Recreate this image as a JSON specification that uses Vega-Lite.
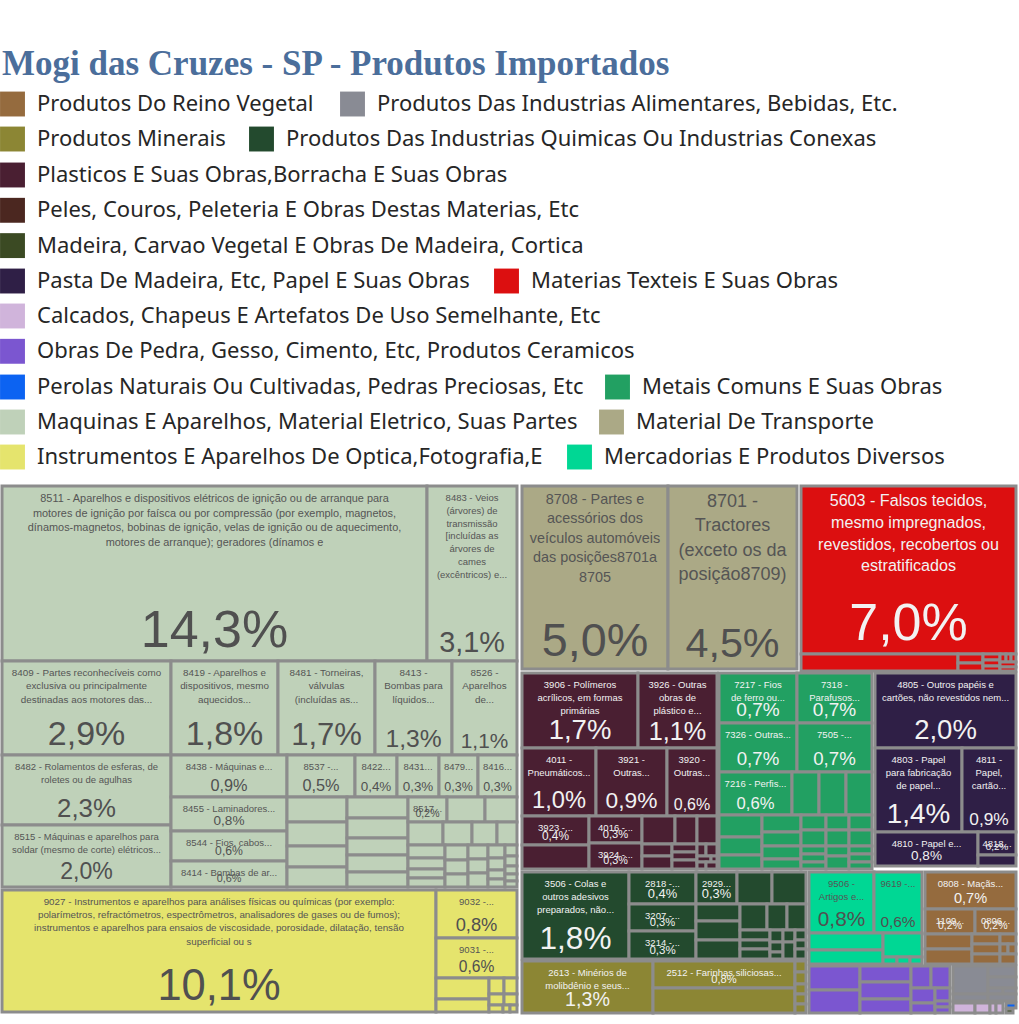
{
  "$schema": "https://vega.github.io/schema/vega-lite/v6.json",
  "width": 1019,
  "height": 530,
  "autosize": {"type": "none"},
  "padding": {"top": 484, "left": 0, "right": 0, "bottom": 10},
  "background": "white",
  "title": {
    "text": "Mogi das Cruzes - SP - Produtos Importados",
    "anchor": "start",
    "frame": "group",
    "font": "Liberation Serif",
    "fontSize": 35,
    "fontWeight": "bold",
    "color": "#4b6e9b",
    "baseline": "alphabetic",
    "offset": -18,
    "dx": 2
  },
  "datasets": {
    "grupos": [
      {"cod": "RV", "grupo": "Produtos Do Reino Vegetal"},
      {"cod": "AL", "grupo": "Produtos Das Industrias Alimentares, Bebidas, Etc."},
      {"cod": "MI", "grupo": "Produtos Minerais"},
      {"cod": "QU", "grupo": "Produtos Das Industrias Quimicas Ou Industrias Conexas"},
      {"cod": "PL", "grupo": "Plasticos E Suas Obras,Borracha E Suas Obras"},
      {"cod": "PE", "grupo": "Peles, Couros, Peleteria E Obras Destas Materias, Etc"},
      {"cod": "MA", "grupo": "Madeira, Carvao Vegetal E Obras De Madeira, Cortica"},
      {"cod": "PA", "grupo": "Pasta De Madeira, Etc, Papel E Suas Obras"},
      {"cod": "TX", "grupo": "Materias Texteis E Suas Obras"},
      {"cod": "CA", "grupo": "Calcados, Chapeus E Artefatos De Uso Semelhante, Etc"},
      {"cod": "OP", "grupo": "Obras De Pedra, Gesso, Cimento, Etc, Produtos Ceramicos"},
      {"cod": "PR", "grupo": "Perolas Naturais Ou Cultivadas, Pedras Preciosas, Etc"},
      {"cod": "ME", "grupo": "Metais Comuns E Suas Obras"},
      {"cod": "MQ", "grupo": "Maquinas E Aparelhos, Material Eletrico, Suas Partes"},
      {"cod": "TR", "grupo": "Material De Transporte"},
      {"cod": "IN", "grupo": "Instrumentos E Aparelhos De Optica,Fotografia,E"},
      {"cod": "MD", "grupo": "Mercadorias E Produtos Diversos"}
    ],
    "folhas": [
      {"cod": "MQ", "x0": 2, "x1": 427, "y0": 2, "y1": 177, "share": 0.143, "rotulo": "8511 - Aparelhos e dispositivos elétricos de ignição ou de arranque para\nmotores de ignição por faísca ou por compressão (por exemplo, magnetos,\ndínamos-magnetos, bobinas de ignição, velas de ignição ou de aquecimento,\nmotores de arranque); geradores (dínamos e"},
      {"cod": "MQ", "x0": 427, "x1": 517, "y0": 2, "y1": 177, "share": 0.031, "rotulo": "8483 - Veios\n(árvores) de\ntransmissão\n[incluídas as\nárvores de\ncames\n(excêntricos) e..."},
      {"cod": "MQ", "x0": 2, "x1": 171, "y0": 177, "y1": 271, "share": 0.029, "rotulo": "8409 - Partes reconhecíveis como\nexclusiva ou principalmente\ndestinadas aos motores das..."},
      {"cod": "MQ", "x0": 171, "x1": 278, "y0": 177, "y1": 271, "share": 0.018, "rotulo": "8419 - Aparelhos e\ndispositivos, mesmo\naquecidos..."},
      {"cod": "MQ", "x0": 278, "x1": 375, "y0": 177, "y1": 271, "share": 0.017, "rotulo": "8481 - Torneiras,\nválvulas\n(incluídas as..."},
      {"cod": "MQ", "x0": 375, "x1": 452, "y0": 177, "y1": 271, "share": 0.013, "rotulo": "8413 -\nBombas para\nlíquidos..."},
      {"cod": "MQ", "x0": 452, "x1": 517, "y0": 177, "y1": 271, "share": 0.011, "rotulo": "8526 -\nAparelhos\nde..."},
      {"cod": "MQ", "x0": 2, "x1": 171, "y0": 271, "y1": 341, "share": 0.023, "rotulo": "8482 - Rolamentos de esferas, de\nroletes ou de agulhas"},
      {"cod": "MQ", "x0": 2, "x1": 171, "y0": 341, "y1": 403, "share": 0.020, "rotulo": "8515 - Máquinas e aparelhos para\nsoldar (mesmo de corte) elétricos..."},
      {"cod": "MQ", "x0": 171, "x1": 287, "y0": 271, "y1": 313, "share": 0.009, "rotulo": "8438 - Máquinas e..."},
      {"cod": "MQ", "x0": 171, "x1": 287, "y0": 313, "y1": 347, "share": 0.008, "rotulo": "8455 - Laminadores..."},
      {"cod": "MQ", "x0": 171, "x1": 287, "y0": 347, "y1": 377, "share": 0.006, "rotulo": "8544 - Fios, cabos..."},
      {"cod": "MQ", "x0": 171, "x1": 287, "y0": 377, "y1": 403, "share": 0.006, "rotulo": "8414 - Bombas de ar..."},
      {"cod": "MQ", "x0": 287, "x1": 355, "y0": 271, "y1": 313, "share": 0.005, "rotulo": "8537 -..."},
      {"cod": "MQ", "x0": 355, "x1": 397, "y0": 271, "y1": 313, "share": 0.004, "rotulo": "8422..."},
      {"cod": "MQ", "x0": 397, "x1": 439, "y0": 271, "y1": 313, "share": 0.003, "rotulo": "8431..."},
      {"cod": "MQ", "x0": 439, "x1": 478, "y0": 271, "y1": 313, "share": 0.003, "rotulo": "8479..."},
      {"cod": "MQ", "x0": 478, "x1": 517, "y0": 271, "y1": 313, "share": 0.003, "rotulo": "8416..."},
      {"cod": "MQ", "x0": 287, "x1": 347, "y0": 313, "y1": 338},
      {"cod": "MQ", "x0": 287, "x1": 347, "y0": 338, "y1": 362},
      {"cod": "MQ", "x0": 287, "x1": 347, "y0": 362, "y1": 383},
      {"cod": "MQ", "x0": 287, "x1": 347, "y0": 383, "y1": 403},
      {"cod": "MQ", "x0": 347, "x1": 408, "y0": 313, "y1": 334},
      {"cod": "MQ", "x0": 347, "x1": 408, "y0": 334, "y1": 354},
      {"cod": "MQ", "x0": 347, "x1": 408, "y0": 354, "y1": 371},
      {"cod": "MQ", "x0": 347, "x1": 408, "y0": 371, "y1": 388},
      {"cod": "MQ", "x0": 347, "x1": 408, "y0": 388, "y1": 403},
      {"cod": "MQ", "x0": 408, "x1": 447, "y0": 313, "y1": 338, "share": 0.002, "rotulo": "8517..."},
      {"cod": "MQ", "x0": 447, "x1": 485, "y0": 313, "y1": 338},
      {"cod": "MQ", "x0": 485, "x1": 517, "y0": 313, "y1": 338},
      {"cod": "MQ", "x0": 408, "x1": 443, "y0": 338, "y1": 361},
      {"cod": "MQ", "x0": 443, "x1": 472, "y0": 338, "y1": 361},
      {"cod": "MQ", "x0": 472, "x1": 497, "y0": 338, "y1": 361},
      {"cod": "MQ", "x0": 497, "x1": 517, "y0": 338, "y1": 361},
      {"cod": "MQ", "x0": 408, "x1": 445, "y0": 361, "y1": 374},
      {"cod": "MQ", "x0": 408, "x1": 445, "y0": 374, "y1": 385},
      {"cod": "MQ", "x0": 408, "x1": 445, "y0": 385, "y1": 394},
      {"cod": "MQ", "x0": 408, "x1": 445, "y0": 394, "y1": 403},
      {"cod": "MQ", "x0": 445, "x1": 468, "y0": 361, "y1": 376},
      {"cod": "MQ", "x0": 445, "x1": 468, "y0": 376, "y1": 390},
      {"cod": "MQ", "x0": 445, "x1": 468, "y0": 390, "y1": 403},
      {"cod": "MQ", "x0": 468, "x1": 488, "y0": 361, "y1": 375},
      {"cod": "MQ", "x0": 468, "x1": 488, "y0": 375, "y1": 389},
      {"cod": "MQ", "x0": 468, "x1": 488, "y0": 389, "y1": 403},
      {"cod": "MQ", "x0": 488, "x1": 505, "y0": 361, "y1": 374},
      {"cod": "MQ", "x0": 488, "x1": 505, "y0": 374, "y1": 386},
      {"cod": "MQ", "x0": 488, "x1": 505, "y0": 386, "y1": 395},
      {"cod": "MQ", "x0": 488, "x1": 505, "y0": 395, "y1": 403},
      {"cod": "MQ", "x0": 505, "x1": 517, "y0": 361, "y1": 372},
      {"cod": "MQ", "x0": 505, "x1": 517, "y0": 372, "y1": 382},
      {"cod": "MQ", "x0": 505, "x1": 517, "y0": 382, "y1": 390},
      {"cod": "MQ", "x0": 505, "x1": 517, "y0": 390, "y1": 397},
      {"cod": "MQ", "x0": 505, "x1": 517, "y0": 397, "y1": 403},

      {"cod": "TR", "x0": 522, "x1": 668, "y0": 2, "y1": 185, "share": 0.050, "rotulo": "8708 - Partes e\nacessórios dos\nveículos automóveis\ndas posições8701a\n8705"},
      {"cod": "TR", "x0": 668, "x1": 797, "y0": 2, "y1": 185, "share": 0.045, "rotulo": "8701 -\nTractores\n(exceto os da\nposição8709)"},

      {"cod": "TX", "x0": 801, "x1": 1016, "y0": 2, "y1": 170, "share": 0.070, "rotulo": "5603 - Falsos tecidos,\nmesmo impregnados,\nrevestidos, recobertos ou\nestratificados"},
      {"cod": "TX", "x0": 801, "x1": 958, "y0": 170, "y1": 187},
      {"cod": "TX", "x0": 958, "x1": 983, "y0": 170, "y1": 179},
      {"cod": "TX", "x0": 958, "x1": 983, "y0": 179, "y1": 187},
      {"cod": "TX", "x0": 983, "x1": 1000, "y0": 170, "y1": 176},
      {"cod": "TX", "x0": 983, "x1": 1000, "y0": 176, "y1": 182},
      {"cod": "TX", "x0": 983, "x1": 1000, "y0": 182, "y1": 187},
      {"cod": "TX", "x0": 1000, "x1": 1006, "y0": 170, "y1": 178},
      {"cod": "TX", "x0": 1006, "x1": 1011, "y0": 170, "y1": 178},
      {"cod": "TX", "x0": 1011, "x1": 1016, "y0": 170, "y1": 178},
      {"cod": "TX", "x0": 1000, "x1": 1016, "y0": 178, "y1": 183},
      {"cod": "TX", "x0": 1000, "x1": 1016, "y0": 183, "y1": 187},

      {"cod": "PL", "x0": 522, "x1": 638, "y0": 189, "y1": 264, "share": 0.017, "rotulo": "3906 - Polímeros\nacrílicos, em formas\nprimárias"},
      {"cod": "PL", "x0": 638, "x1": 717, "y0": 189, "y1": 264, "share": 0.011, "rotulo": "3926 - Outras\nobras de\nplástico e..."},
      {"cod": "PL", "x0": 522, "x1": 596, "y0": 264, "y1": 332, "share": 0.010, "rotulo": "4011 -\nPneumáticos..."},
      {"cod": "PL", "x0": 596, "x1": 667, "y0": 264, "y1": 332, "share": 0.009, "rotulo": "3921 -\nOutras..."},
      {"cod": "PL", "x0": 667, "x1": 717, "y0": 264, "y1": 332, "share": 0.006, "rotulo": "3920 -\nOutras..."},
      {"cod": "PL", "x0": 522, "x1": 589, "y0": 332, "y1": 361, "share": 0.004, "rotulo": "3923 -..."},
      {"cod": "PL", "x0": 522, "x1": 589, "y0": 361, "y1": 385},
      {"cod": "PL", "x0": 589, "x1": 642, "y0": 332, "y1": 359, "share": 0.003, "rotulo": "4016 -..."},
      {"cod": "PL", "x0": 589, "x1": 642, "y0": 359, "y1": 385, "share": 0.003, "rotulo": "3924 -..."},
      {"cod": "PL", "x0": 642, "x1": 675, "y0": 332, "y1": 360},
      {"cod": "PL", "x0": 675, "x1": 697, "y0": 332, "y1": 360},
      {"cod": "PL", "x0": 697, "x1": 717, "y0": 332, "y1": 360},
      {"cod": "PL", "x0": 642, "x1": 672, "y0": 360, "y1": 372},
      {"cod": "PL", "x0": 642, "x1": 672, "y0": 372, "y1": 385},
      {"cod": "PL", "x0": 672, "x1": 697, "y0": 360, "y1": 368},
      {"cod": "PL", "x0": 672, "x1": 697, "y0": 368, "y1": 376},
      {"cod": "PL", "x0": 672, "x1": 697, "y0": 376, "y1": 385},
      {"cod": "PL", "x0": 697, "x1": 706, "y0": 360, "y1": 372},
      {"cod": "PL", "x0": 706, "x1": 717, "y0": 360, "y1": 372},
      {"cod": "PL", "x0": 697, "x1": 711, "y0": 372, "y1": 378},
      {"cod": "PL", "x0": 711, "x1": 717, "y0": 372, "y1": 378},
      {"cod": "PL", "x0": 697, "x1": 706, "y0": 378, "y1": 385},
      {"cod": "PL", "x0": 706, "x1": 717, "y0": 378, "y1": 385},

      {"cod": "ME", "x0": 719, "x1": 797, "y0": 189, "y1": 239, "share": 0.007, "rotulo": "7217 - Fios\nde ferro ou..."},
      {"cod": "ME", "x0": 797, "x1": 872, "y0": 189, "y1": 239, "share": 0.007, "rotulo": "7318 -\nParafusos..."},
      {"cod": "ME", "x0": 719, "x1": 797, "y0": 239, "y1": 288, "share": 0.007, "rotulo": "7326 - Outras..."},
      {"cod": "ME", "x0": 797, "x1": 872, "y0": 239, "y1": 288, "share": 0.007, "rotulo": "7505 -..."},
      {"cod": "ME", "x0": 719, "x1": 792, "y0": 288, "y1": 331, "share": 0.006, "rotulo": "7216 - Perfis..."},
      {"cod": "ME", "x0": 792, "x1": 819, "y0": 288, "y1": 331},
      {"cod": "ME", "x0": 819, "x1": 846, "y0": 288, "y1": 331},
      {"cod": "ME", "x0": 846, "x1": 872, "y0": 288, "y1": 331},
      {"cod": "ME", "x0": 719, "x1": 762, "y0": 331, "y1": 353},
      {"cod": "ME", "x0": 719, "x1": 762, "y0": 353, "y1": 371},
      {"cod": "ME", "x0": 719, "x1": 762, "y0": 371, "y1": 385},
      {"cod": "ME", "x0": 762, "x1": 801, "y0": 331, "y1": 348},
      {"cod": "ME", "x0": 762, "x1": 801, "y0": 348, "y1": 362},
      {"cod": "ME", "x0": 762, "x1": 801, "y0": 362, "y1": 375},
      {"cod": "ME", "x0": 762, "x1": 801, "y0": 375, "y1": 385},
      {"cod": "ME", "x0": 801, "x1": 826, "y0": 331, "y1": 346},
      {"cod": "ME", "x0": 801, "x1": 826, "y0": 346, "y1": 362},
      {"cod": "ME", "x0": 801, "x1": 826, "y0": 362, "y1": 370},
      {"cod": "ME", "x0": 801, "x1": 826, "y0": 370, "y1": 378},
      {"cod": "ME", "x0": 801, "x1": 826, "y0": 378, "y1": 385},
      {"cod": "ME", "x0": 826, "x1": 849, "y0": 331, "y1": 346},
      {"cod": "ME", "x0": 826, "x1": 849, "y0": 346, "y1": 362},
      {"cod": "ME", "x0": 826, "x1": 849, "y0": 362, "y1": 372},
      {"cod": "ME", "x0": 826, "x1": 849, "y0": 372, "y1": 385},
      {"cod": "ME", "x0": 849, "x1": 872, "y0": 331, "y1": 346},
      {"cod": "ME", "x0": 849, "x1": 872, "y0": 346, "y1": 362},
      {"cod": "ME", "x0": 849, "x1": 872, "y0": 362, "y1": 370},
      {"cod": "ME", "x0": 849, "x1": 872, "y0": 370, "y1": 378},
      {"cod": "ME", "x0": 849, "x1": 872, "y0": 378, "y1": 385},

      {"cod": "PA", "x0": 875, "x1": 1016, "y0": 189, "y1": 264, "share": 0.020, "rotulo": "4805 - Outros papéis e\ncartões, não revestidos nem..."},
      {"cod": "PA", "x0": 875, "x1": 962, "y0": 264, "y1": 348, "share": 0.014, "rotulo": "4803 - Papel\npara fabricação\nde papel..."},
      {"cod": "PA", "x0": 962, "x1": 1016, "y0": 264, "y1": 348, "share": 0.009, "rotulo": "4811 -\nPapel,\ncartão..."},
      {"cod": "PA", "x0": 875, "x1": 978, "y0": 348, "y1": 382, "share": 0.008, "rotulo": "4810 - Papel e..."},
      {"cod": "PA", "x0": 978, "x1": 1016, "y0": 348, "y1": 371, "share": 0.002, "rotulo": "4818..."},
      {"cod": "PA", "x0": 978, "x1": 1016, "y0": 371, "y1": 382},

      {"cod": "QU", "x0": 522, "x1": 629, "y0": 388, "y1": 475, "share": 0.018, "rotulo": "3506 - Colas e\noutros adesivos\npreparados, não..."},
      {"cod": "QU", "x0": 629, "x1": 696, "y0": 388, "y1": 420, "share": 0.004, "rotulo": "2818 -..."},
      {"cod": "QU", "x0": 696, "x1": 737, "y0": 388, "y1": 420, "share": 0.003, "rotulo": "2929..."},
      {"cod": "QU", "x0": 737, "x1": 772, "y0": 388, "y1": 420},
      {"cod": "QU", "x0": 772, "x1": 806, "y0": 388, "y1": 420},
      {"cod": "QU", "x0": 629, "x1": 696, "y0": 420, "y1": 447, "share": 0.003, "rotulo": "3207 -..."},
      {"cod": "QU", "x0": 629, "x1": 696, "y0": 447, "y1": 475, "share": 0.003, "rotulo": "3214 -..."},
      {"cod": "QU", "x0": 696, "x1": 740, "y0": 420, "y1": 437},
      {"cod": "QU", "x0": 696, "x1": 740, "y0": 437, "y1": 456},
      {"cod": "QU", "x0": 696, "x1": 740, "y0": 456, "y1": 475},
      {"cod": "QU", "x0": 740, "x1": 767, "y0": 420, "y1": 446},
      {"cod": "QU", "x0": 767, "x1": 787, "y0": 420, "y1": 446},
      {"cod": "QU", "x0": 787, "x1": 806, "y0": 420, "y1": 446},
      {"cod": "QU", "x0": 740, "x1": 770, "y0": 446, "y1": 456},
      {"cod": "QU", "x0": 740, "x1": 770, "y0": 456, "y1": 465},
      {"cod": "QU", "x0": 740, "x1": 770, "y0": 465, "y1": 475},
      {"cod": "QU", "x0": 770, "x1": 783, "y0": 446, "y1": 458},
      {"cod": "QU", "x0": 770, "x1": 783, "y0": 458, "y1": 468},
      {"cod": "QU", "x0": 770, "x1": 783, "y0": 468, "y1": 475},
      {"cod": "QU", "x0": 783, "x1": 795, "y0": 446, "y1": 458},
      {"cod": "QU", "x0": 783, "x1": 795, "y0": 458, "y1": 475},
      {"cod": "QU", "x0": 795, "x1": 806, "y0": 446, "y1": 456},
      {"cod": "QU", "x0": 795, "x1": 806, "y0": 456, "y1": 465},
      {"cod": "QU", "x0": 795, "x1": 806, "y0": 465, "y1": 475},

      {"cod": "MI", "x0": 522, "x1": 653, "y0": 477, "y1": 529, "share": 0.013, "rotulo": "2613 - Minérios de\nmolibdênio e seus..."},
      {"cod": "MI", "x0": 653, "x1": 795, "y0": 477, "y1": 504, "share": 0.008, "rotulo": "2512 - Farinhas siliciosas..."},
      {"cod": "MI", "x0": 653, "x1": 795, "y0": 504, "y1": 529},
      {"cod": "MI", "x0": 795, "x1": 806, "y0": 477, "y1": 488},
      {"cod": "MI", "x0": 795, "x1": 806, "y0": 488, "y1": 500},
      {"cod": "MI", "x0": 795, "x1": 806, "y0": 500, "y1": 510},
      {"cod": "MI", "x0": 795, "x1": 806, "y0": 510, "y1": 520},
      {"cod": "MI", "x0": 795, "x1": 806, "y0": 520, "y1": 529},

      {"cod": "MD", "x0": 809, "x1": 874, "y0": 388, "y1": 449, "share": 0.008, "rotulo": "9506 -\nArtigos e..."},
      {"cod": "MD", "x0": 874, "x1": 922, "y0": 388, "y1": 449, "share": 0.006, "rotulo": "9619 -..."},
      {"cod": "MD", "x0": 809, "x1": 883, "y0": 449, "y1": 466},
      {"cod": "MD", "x0": 809, "x1": 883, "y0": 466, "y1": 480},
      {"cod": "MD", "x0": 883, "x1": 922, "y0": 449, "y1": 473},
      {"cod": "MD", "x0": 883, "x1": 897, "y0": 473, "y1": 480},
      {"cod": "MD", "x0": 897, "x1": 910, "y0": 473, "y1": 480},
      {"cod": "MD", "x0": 910, "x1": 922, "y0": 473, "y1": 480},

      {"cod": "RV", "x0": 925, "x1": 1016, "y0": 388, "y1": 425, "share": 0.007, "rotulo": "0808 - Maçãs..."},
      {"cod": "RV", "x0": 925, "x1": 975, "y0": 425, "y1": 450, "share": 0.002, "rotulo": "1109..."},
      {"cod": "RV", "x0": 975, "x1": 1016, "y0": 425, "y1": 450, "share": 0.002, "rotulo": "0806..."},
      {"cod": "RV", "x0": 925, "x1": 972, "y0": 450, "y1": 465},
      {"cod": "RV", "x0": 925, "x1": 972, "y0": 465, "y1": 480},
      {"cod": "RV", "x0": 972, "x1": 1000, "y0": 450, "y1": 460},
      {"cod": "RV", "x0": 972, "x1": 1000, "y0": 460, "y1": 470},
      {"cod": "RV", "x0": 972, "x1": 1000, "y0": 470, "y1": 480},
      {"cod": "RV", "x0": 1000, "x1": 1016, "y0": 450, "y1": 460},
      {"cod": "RV", "x0": 1000, "x1": 1008, "y0": 460, "y1": 470},
      {"cod": "RV", "x0": 1008, "x1": 1016, "y0": 460, "y1": 470},
      {"cod": "RV", "x0": 1000, "x1": 1016, "y0": 470, "y1": 480},

      {"cod": "OP", "x0": 809, "x1": 860, "y0": 482, "y1": 506},
      {"cod": "OP", "x0": 809, "x1": 860, "y0": 506, "y1": 529},
      {"cod": "OP", "x0": 860, "x1": 911, "y0": 482, "y1": 498},
      {"cod": "OP", "x0": 860, "x1": 911, "y0": 498, "y1": 515},
      {"cod": "OP", "x0": 860, "x1": 911, "y0": 515, "y1": 529},
      {"cod": "OP", "x0": 911, "x1": 931, "y0": 482, "y1": 504},
      {"cod": "OP", "x0": 931, "x1": 950, "y0": 482, "y1": 504},
      {"cod": "OP", "x0": 911, "x1": 935, "y0": 504, "y1": 519},
      {"cod": "OP", "x0": 911, "x1": 935, "y0": 519, "y1": 529},
      {"cod": "OP", "x0": 935, "x1": 950, "y0": 504, "y1": 517},
      {"cod": "OP", "x0": 935, "x1": 950, "y0": 517, "y1": 523},
      {"cod": "OP", "x0": 935, "x1": 950, "y0": 523, "y1": 529},

      {"cod": "AL", "x0": 953, "x1": 988, "y0": 482, "y1": 510},
      {"cod": "AL", "x0": 953, "x1": 988, "y0": 510, "y1": 517},
      {"cod": "AL", "x0": 988, "x1": 1016, "y0": 482, "y1": 493},
      {"cod": "AL", "x0": 988, "x1": 1016, "y0": 493, "y1": 504},
      {"cod": "AL", "x0": 988, "x1": 1003, "y0": 504, "y1": 510},
      {"cod": "AL", "x0": 1003, "x1": 1016, "y0": 504, "y1": 510},
      {"cod": "AL", "x0": 988, "x1": 1016, "y0": 510, "y1": 517},

      {"cod": "CA", "x0": 953, "x1": 975, "y0": 519, "y1": 529},
      {"cod": "CA", "x0": 975, "x1": 990, "y0": 519, "y1": 529},
      {"cod": "CA", "x0": 990, "x1": 996, "y0": 519, "y1": 529},
      {"cod": "CA", "x0": 996, "x1": 1003, "y0": 519, "y1": 529},
      {"cod": "PR", "x0": 1006, "x1": 1016, "y0": 519, "y1": 524},
      {"cod": "MA", "x0": 1006, "x1": 1013, "y0": 525, "y1": 529},

      {"cod": "IN", "x0": 2, "x1": 436, "y0": 406, "y1": 528, "share": 0.101, "rotulo": "9027 - Instrumentos e aparelhos para análises físicas ou químicas (por exemplo:\npolarímetros, refractómetros, espectrômetros, analisadores de gases ou de fumos);\ninstrumentos e aparelhos para ensaios de viscosidade, porosidade, dilatação, tensão\nsuperficial ou s"},
      {"cod": "IN", "x0": 436, "x1": 517, "y0": 406, "y1": 454, "share": 0.008, "rotulo": "9032 -..."},
      {"cod": "IN", "x0": 436, "x1": 517, "y0": 454, "y1": 494, "share": 0.006, "rotulo": "9031 -..."},
      {"cod": "IN", "x0": 436, "x1": 489, "y0": 494, "y1": 515},
      {"cod": "IN", "x0": 436, "x1": 489, "y0": 515, "y1": 528},
      {"cod": "IN", "x0": 489, "x1": 504, "y0": 494, "y1": 510},
      {"cod": "IN", "x0": 504, "x1": 517, "y0": 494, "y1": 510},
      {"cod": "IN", "x0": 489, "x1": 504, "y0": 510, "y1": 521},
      {"cod": "IN", "x0": 504, "x1": 517, "y0": 510, "y1": 521},
      {"cod": "IN", "x0": 489, "x1": 503, "y0": 521, "y1": 528},
      {"cod": "IN", "x0": 503, "x1": 510, "y0": 521, "y1": 528},
      {"cod": "IN", "x0": 510, "x1": 517, "y0": 521, "y1": 528}
    ]
  },
  "data": {"name": "folhas"},
  "transform": [
    {"lookup": "cod", "from": {"data": {"name": "grupos"}, "key": "cod", "fields": ["grupo"]}},
    {"calculate": "datum.x1 - datum.x0", "as": "w"},
    {"calculate": "datum.y1 - datum.y0", "as": "h"},
    {"calculate": "(datum.x0 + datum.x1) / 2", "as": "xc"}
  ],
  "layer": [
    {
      "transform": [{"filter": {"field": "cod", "oneOf": ["RV", "AL"]}}],
      "mark": {"type": "rect", "stroke": "#8c8c8c", "strokeWidth": 3},
      "encoding": {
        "x": {"field": "x0", "type": "quantitative", "scale": {"domain": [0, 1019], "nice": false, "zero": false}, "axis": null},
        "x2": {"field": "x1"},
        "y": {"field": "y0", "type": "quantitative", "scale": {"domain": [0, 530], "nice": false, "zero": false, "reverse": true}, "axis": null},
        "y2": {"field": "y1"},
        "color": {
          "field": "grupo", "type": "nominal",
          "scale": {"domain": ["Produtos Do Reino Vegetal", "Produtos Das Industrias Alimentares, Bebidas, Etc."], "range": ["#956b3e", "#898b94"]},
          "legend": {"title": null, "direction": "horizontal", "legendX": 0, "legendY": -392.5, "columnPadding": 26}
        }
      }
    },
    {
      "transform": [{"filter": {"field": "cod", "oneOf": ["MI", "QU"]}}],
      "mark": {"type": "rect", "stroke": "#8c8c8c", "strokeWidth": 3},
      "encoding": {
        "x": {"field": "x0", "type": "quantitative", "scale": {"domain": [0, 1019], "nice": false, "zero": false}, "axis": null},
        "x2": {"field": "x1"},
        "y": {"field": "y0", "type": "quantitative", "scale": {"domain": [0, 530], "nice": false, "zero": false, "reverse": true}, "axis": null},
        "y2": {"field": "y1"},
        "color": {
          "field": "grupo", "type": "nominal",
          "scale": {"domain": ["Produtos Minerais", "Produtos Das Industrias Quimicas Ou Industrias Conexas"], "range": ["#8c8634", "#234a2e"]},
          "legend": {"title": null, "direction": "horizontal", "legendX": 0, "legendY": -357.5, "columnPadding": 23}
        }
      }
    },
    {
      "transform": [{"filter": {"field": "cod", "oneOf": ["PL", "PE", "MA"]}}],
      "mark": {"type": "rect", "stroke": "#8c8c8c", "strokeWidth": 3},
      "encoding": {
        "x": {"field": "x0", "type": "quantitative", "scale": {"domain": [0, 1019], "nice": false, "zero": false}, "axis": null},
        "x2": {"field": "x1"},
        "y": {"field": "y0", "type": "quantitative", "scale": {"domain": [0, 530], "nice": false, "zero": false, "reverse": true}, "axis": null},
        "y2": {"field": "y1"},
        "color": {
          "field": "grupo", "type": "nominal",
          "scale": {"domain": ["Plasticos E Suas Obras,Borracha E Suas Obras", "Peles, Couros, Peleteria E Obras Destas Materias, Etc", "Madeira, Carvao Vegetal E Obras De Madeira, Cortica"], "range": ["#4a1f32", "#4b2720", "#3b4a23"]},
          "legend": {"title": null, "direction": "vertical", "columns": 1, "legendX": 0, "legendY": -321.5}
        }
      }
    },
    {
      "transform": [{"filter": {"field": "cod", "oneOf": ["PA", "TX"]}}],
      "mark": {"type": "rect", "stroke": "#8c8c8c", "strokeWidth": 3},
      "encoding": {
        "x": {"field": "x0", "type": "quantitative", "scale": {"domain": [0, 1019], "nice": false, "zero": false}, "axis": null},
        "x2": {"field": "x1"},
        "y": {"field": "y0", "type": "quantitative", "scale": {"domain": [0, 530], "nice": false, "zero": false, "reverse": true}, "axis": null},
        "y2": {"field": "y1"},
        "color": {
          "field": "grupo", "type": "nominal",
          "scale": {"domain": ["Pasta De Madeira, Etc, Papel E Suas Obras", "Materias Texteis E Suas Obras"], "range": ["#2f1f46", "#dc0f10"]},
          "legend": {"title": null, "direction": "horizontal", "legendX": 0, "legendY": -215.5, "columnPadding": 24}
        }
      }
    },
    {
      "transform": [{"filter": {"field": "cod", "oneOf": ["CA", "OP"]}}],
      "mark": {"type": "rect", "stroke": "#8c8c8c", "strokeWidth": 3},
      "encoding": {
        "x": {"field": "x0", "type": "quantitative", "scale": {"domain": [0, 1019], "nice": false, "zero": false}, "axis": null},
        "x2": {"field": "x1"},
        "y": {"field": "y0", "type": "quantitative", "scale": {"domain": [0, 530], "nice": false, "zero": false, "reverse": true}, "axis": null},
        "y2": {"field": "y1"},
        "color": {
          "field": "grupo", "type": "nominal",
          "scale": {"domain": ["Calcados, Chapeus E Artefatos De Uso Semelhante, Etc", "Obras De Pedra, Gesso, Cimento, Etc, Produtos Ceramicos"], "range": ["#d0b4db", "#7b56d0"]},
          "legend": {"title": null, "direction": "vertical", "columns": 1, "legendX": 0, "legendY": -180.5}
        }
      }
    },
    {
      "transform": [{"filter": {"field": "cod", "oneOf": ["PR", "ME"]}}],
      "mark": {"type": "rect", "stroke": "#8c8c8c", "strokeWidth": 3},
      "encoding": {
        "x": {"field": "x0", "type": "quantitative", "scale": {"domain": [0, 1019], "nice": false, "zero": false}, "axis": null},
        "x2": {"field": "x1"},
        "y": {"field": "y0", "type": "quantitative", "scale": {"domain": [0, 530], "nice": false, "zero": false, "reverse": true}, "axis": null},
        "y2": {"field": "y1"},
        "color": {
          "field": "grupo", "type": "nominal",
          "scale": {"domain": ["Perolas Naturais Ou Cultivadas, Pedras Preciosas, Etc", "Metais Comuns E Suas Obras"], "range": ["#0c63f2", "#22a062"]},
          "legend": {"title": null, "direction": "horizontal", "legendX": 0, "legendY": -109.5, "columnPadding": 21}
        }
      }
    },
    {
      "transform": [{"filter": {"field": "cod", "oneOf": ["MQ", "TR"]}}],
      "mark": {"type": "rect", "stroke": "#8c8c8c", "strokeWidth": 3},
      "encoding": {
        "x": {"field": "x0", "type": "quantitative", "scale": {"domain": [0, 1019], "nice": false, "zero": false}, "axis": null},
        "x2": {"field": "x1"},
        "y": {"field": "y0", "type": "quantitative", "scale": {"domain": [0, 530], "nice": false, "zero": false, "reverse": true}, "axis": null},
        "y2": {"field": "y1"},
        "color": {
          "field": "grupo", "type": "nominal",
          "scale": {"domain": ["Maquinas E Aparelhos, Material Eletrico, Suas Partes", "Material De Transporte"], "range": ["#bfd1b9", "#aba986"]},
          "legend": {"title": null, "direction": "horizontal", "legendX": 0, "legendY": -74.5, "columnPadding": 21}
        }
      }
    },
    {
      "transform": [{"filter": {"field": "cod", "oneOf": ["IN", "MD"]}}],
      "mark": {"type": "rect", "stroke": "#8c8c8c", "strokeWidth": 3},
      "encoding": {
        "x": {"field": "x0", "type": "quantitative", "scale": {"domain": [0, 1019], "nice": false, "zero": false}, "axis": null},
        "x2": {"field": "x1"},
        "y": {"field": "y0", "type": "quantitative", "scale": {"domain": [0, 530], "nice": false, "zero": false, "reverse": true}, "axis": null},
        "y2": {"field": "y1"},
        "color": {
          "field": "grupo", "type": "nominal",
          "scale": {"domain": ["Instrumentos E Aparelhos De Optica,Fotografia,E", "Mercadorias E Produtos Diversos"], "range": ["#e5e46d", "#00d794"]},
          "legend": {"title": null, "direction": "horizontal", "legendX": 0, "legendY": -39.5, "columnPadding": 24}
        }
      }
    },
    {
      "transform": [
        {"filter": "isValid(datum.rotulo)"},
        {"calculate": "split(datum.rotulo, '\\n')", "as": "linhas"},
        {"calculate": "length(datum.linhas)", "as": "nl"},
        {"calculate": "max(length(datum.linhas[0] || ''), length(datum.linhas[1] || ''), length(datum.linhas[2] || ''), length(datum.linhas[3] || ''), length(datum.linhas[4] || ''), length(datum.linhas[5] || ''), length(datum.linhas[6] || ''))", "as": "maxlen"},
        {"calculate": "clamp(min(0.9 * datum.w / (0.48 * datum.maxlen), 0.105 * datum.h), 9.5, 18)", "as": "fsLab"}
      ],
      "mark": {"type": "text", "baseline": "top", "align": "center", "font": "Liberation Sans", "dy": 7, "lineBreak": "\n", "lineHeight": {"expr": "datum.fsLab * 1.35"}},
      "encoding": {
        "x": {"field": "xc", "type": "quantitative", "scale": {"domain": [0, 1019], "nice": false, "zero": false}, "axis": null},
        "y": {"field": "y0", "type": "quantitative", "scale": {"domain": [0, 530], "nice": false, "zero": false, "reverse": true}, "axis": null},
        "text": {"field": "rotulo", "type": "nominal"},
        "size": {"field": "fsLab", "type": "quantitative", "scale": null, "legend": null},
        "color": {"condition": {"test": "indexof(['MQ', 'TR', 'IN', 'MD'], datum.cod) >= 0", "value": "#555555"}, "value": "#f2f2f2"}
      }
    },
    {
      "transform": [
        {"filter": "isValid(datum.share)"},
        {"calculate": "replace(format(datum.share * 100, '.1f'), '.', ',') + '%'", "as": "rotPct"},
        {"calculate": "clamp(min(0.34 * datum.h + 2, 0.32 * datum.w), 8, 52)", "as": "fsPct"}
      ],
      "mark": {"type": "text", "baseline": "bottom", "align": "center", "font": "Liberation Sans", "dy": -3},
      "encoding": {
        "x": {"field": "xc", "type": "quantitative", "scale": {"domain": [0, 1019], "nice": false, "zero": false}, "axis": null},
        "y": {"field": "y1", "type": "quantitative", "scale": {"domain": [0, 530], "nice": false, "zero": false, "reverse": true}, "axis": null},
        "text": {"field": "rotPct", "type": "nominal"},
        "size": {"field": "fsPct", "type": "quantitative", "scale": null, "legend": null},
        "color": {"condition": {"test": "indexof(['MQ', 'TR', 'IN', 'MD'], datum.cod) >= 0", "value": "#505050"}, "value": "#f2f2f2"}
      }
    }
  ],
  "resolve": {"scale": {"color": "independent"}},
  "config": {
    "view": {"stroke": null},
    "legend": {
      "orient": "none",
      "padding": 0,
      "symbolType": "square",
      "symbolSize": 620,
      "symbolStrokeWidth": 0,
      "symbolOpacity": 1,
      "labelFont": "Noto Sans",
      "labelFontSize": 22,
      "labelColor": "#262626",
      "labelLimit": 1000,
      "labelOffset": 12,
      "rowPadding": 10.3,
      "columnPadding": 26
    }
  }
}
